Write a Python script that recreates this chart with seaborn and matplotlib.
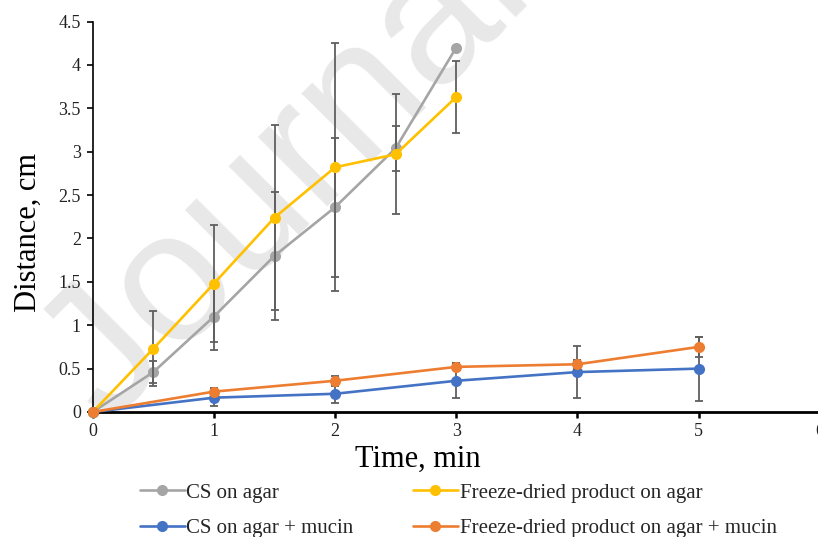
import matplotlib
matplotlib.use("Agg")
import matplotlib.pyplot as plt
import seaborn as sns
import pandas as pd
from matplotlib.lines import Line2D

# ---- data ----
t_agar = [0, 0.5, 1, 1.5, 2, 2.5, 3]
cs_agar = [0, 0.46, 1.10, 1.80, 2.36, 3.04, 4.20]
cs_agar_err = [0, 0.13, 0.38, 0.74, 0.80, 0.26, 0.0]
fd_agar = [0, 0.73, 1.48, 2.24, 2.82, 2.97, 3.63]
fd_agar_err = [0, 0.43, 0.67, 1.07, 1.43, 0.69, 0.41]

t_mucin = [0, 1, 2, 3, 4, 5]
cs_mucin = [0, 0.165, 0.21, 0.36, 0.46, 0.50]
cs_mucin_err = [0, 0.10, 0.11, 0.20, 0.30, 0.37]
fd_mucin = [0, 0.235, 0.36, 0.52, 0.55, 0.75]
fd_mucin_err = [0, 0.04, 0.06, 0.04, 0.05, 0.12]

labels = ["CS on agar", "Freeze-dried product on agar",
          "CS on agar + mucin", "Freeze-dried product on agar + mucin"]
colors = ["#A5A5A5", "#FFC000", "#4472C4", "#ED7D31"]
xticks = [0, 1, 2, 3, 4, 5, 6]
yticks = [0, 0.5, 1, 1.5, 2, 2.5, 3, 3.5, 4, 4.5]
ytick_labels = ["0", "0.5", "1", "1.5", "2", "2.5", "3", "3.5", "4", "4.5"]

sns.set_theme(style="white")
plt.rcParams["font.family"] = ["Liberation Serif", "DejaVu Serif"]

W, H = 818, 537
fig = plt.figure(figsize=(W / 100, H / 100), dpi=100)
ax = fig.add_axes([92.75 / W, (H - 412) / H, 727 / W, 390.5 / H])
ax.set_facecolor("none")

# watermark
fig.text(108 / W, 1 - 425 / H, "Journal Pre-proof", rotation=45,
         rotation_mode="anchor", ha="left", va="baseline",
         fontsize=133, color="#e8e8e8", family="Liberation Sans", zorder=-1)

series = [
    (t_agar, cs_agar, cs_agar_err),
    (t_agar, fd_agar, fd_agar_err),
    (t_mucin, cs_mucin, cs_mucin_err),
    (t_mucin, fd_mucin, fd_mucin_err),
]
for i, ((tx, vy, err), lab, col) in enumerate(zip(series, labels, colors)):
    df = pd.DataFrame({"Time": tx, "Distance": vy})
    sns.lineplot(data=df, x="Time", y="Distance", ax=ax, color=col,
                 marker="o", markersize=8, markeredgewidth=0, linewidth=1.9,
                 zorder=3 + i, label=lab, legend=False, clip_on=False)
    ax.errorbar(tx, vy, yerr=err, fmt="none", ecolor="#5f5f5f",
                elinewidth=1.3, capsize=3.2, capthick=1.3, zorder=2.5 + i)

ax.set_xlim(0, 6)
ax.set_ylim(0, 4.5)
ax.set_xticks(xticks)
ax.set_xticklabels([str(v) for v in xticks])
ax.set_yticks(yticks)
ax.set_yticklabels(ytick_labels)

for s in ["top", "right"]:
    ax.spines[s].set_visible(False)
ax.spines["left"].set_color("black")
ax.spines["left"].set_linewidth(1.2)
ax.spines["bottom"].set_color("black")
ax.spines["bottom"].set_linewidth(2.0)
ax.tick_params(axis="x", direction="out", length=4, width=1.8, colors="black",
               labelcolor="#222222", labelsize=13, pad=4, bottom=True)
ax.tick_params(axis="y", direction="out", length=4.5, width=1.2, colors="black",
               labelcolor="#222222", labelsize=13, pad=4, left=True)

ax.set_xlabel("Time, min", fontsize=22, color="black")
ax.set_ylabel("Distance, cm", fontsize=22, color="black")
ax.xaxis.set_label_coords(0.447, -0.083)
ax.yaxis.set_label_coords(-0.069, 0.46)

handles = [Line2D([0], [0], color=c, lw=1.9, marker="o", markersize=8,
                  markeredgewidth=0) for c in colors]
order = [0, 2, 1, 3]
fig.legend([handles[i] for i in order], [labels[i] for i in order],
           ncol=2, loc="upper left", bbox_to_anchor=(140 / W, 1 - 483 / H),
           frameon=False, fontsize=15, handlelength=2.15, handletextpad=0.08,
           columnspacing=2.85, labelspacing=0.75, borderpad=0, borderaxespad=0)

fig.savefig("out.png", dpi=100)
